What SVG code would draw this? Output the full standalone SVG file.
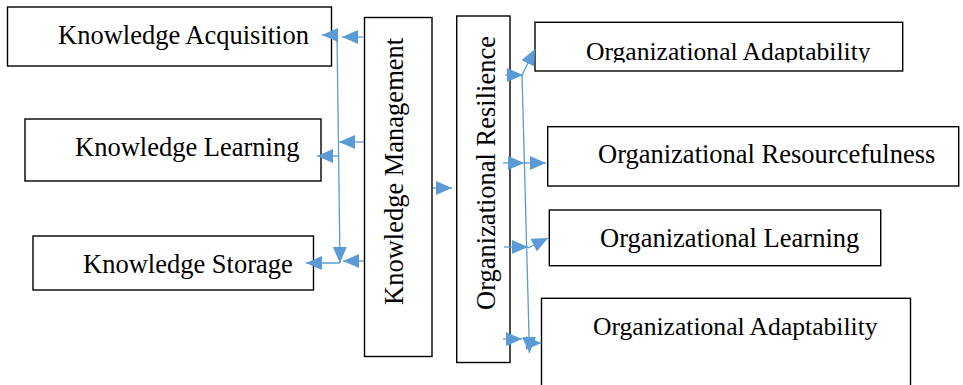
<svg xmlns="http://www.w3.org/2000/svg" width="963" height="385" viewBox="0 0 963 385">
<style>
.box{fill:#fff;stroke:#000;stroke-width:1.4}
.t{font-family:"Liberation Serif","Times New Roman",serif;font-size:26.5px;fill:#000}
.c{stroke:#5B9BD5;stroke-width:1.3;fill:none}
.a{marker-end:url(#ah)}
</style>
<defs>
<marker id="ah" markerUnits="userSpaceOnUse" markerWidth="17" markerHeight="14" refX="16" refY="7" orient="auto">
<path d="M0,0 L16,7 L0,14 Z" fill="#5B9BD5"/>
</marker>
<clipPath id="clipOA"><rect x="535" y="22" width="368" height="40.5"/></clipPath>
</defs>
<rect width="963" height="385" fill="#fff"/>
<g id="ka"><rect class="box" x="7.5" y="7" width="324" height="59"/><text class="t" x="58" y="44">Knowledge Acquisition</text></g>
<g id="kl"><rect class="box" x="25" y="119" width="296" height="62"/><text class="t" x="75" y="155.7">Knowledge Learning</text></g>
<g id="ks"><rect class="box" x="33" y="236" width="280.5" height="54"/><text class="t" x="83" y="272.7">Knowledge Storage</text></g>
<g id="km"><rect class="box" x="364.5" y="17.5" width="67.5" height="339"/><text class="t" transform="translate(403,305) rotate(-90)">Knowledge Management</text></g>
<g id="or"><rect class="box" x="456.7" y="16" width="53.3" height="346.5"/><text class="t" transform="translate(495,310) rotate(-90)">Organizational Resilience</text></g>
<g id="oa1"><rect class="box" x="535" y="22.3" width="367.7" height="48.7"/><text class="t" x="586" y="60" style="font-size:25.6px" clip-path="url(#clipOA)">Organizational Adaptability</text></g>
<g id="ores"><rect class="box" x="547.7" y="126.7" width="411" height="59.3"/><text class="t" x="598" y="163.3">Organizational Resourcefulness</text></g>
<g id="ol"><rect class="box" x="549.3" y="210" width="331.4" height="55.7"/><text class="t" x="600" y="246.7">Organizational Learning</text></g>
<g id="oa2"><rect class="box" x="541.5" y="298.3" width="369" height="110"/><text class="t" x="593" y="335" style="font-size:25.6px">Organizational Adaptability</text></g>
<g id="connectors">
<line class="c a" x1="363" y1="37" x2="342" y2="37"/>
<line class="c a" x1="337" y1="35" x2="322" y2="35"/>
<line class="c a" x1="337" y1="35" x2="340" y2="263"/>
<line class="c a" x1="364" y1="142" x2="339" y2="142"/>
<line class="c a" x1="339" y1="156" x2="317" y2="156"/>
<line class="c a" x1="364" y1="261" x2="343" y2="261"/>
<line class="c a" x1="340" y1="263" x2="306" y2="263"/>
<line class="c a" x1="433" y1="188" x2="452" y2="188"/>
<line class="c a" x1="505" y1="75" x2="523" y2="75"/>
<line class="c a" x1="522" y1="75" x2="535" y2="49"/>
<line class="c a" x1="522" y1="75" x2="529.5" y2="353"/>
<line class="c a" x1="503" y1="163" x2="524" y2="163"/>
<line class="c a" x1="525" y1="163" x2="546" y2="163"/>
<line class="c a" x1="504" y1="247" x2="528" y2="247"/>
<line class="c a" x1="528" y1="248" x2="548" y2="238"/>
<line class="c a" x1="503" y1="339" x2="522" y2="339"/>
<line class="c a" x1="528" y1="343" x2="541.5" y2="343"/>
</g>
</svg>
